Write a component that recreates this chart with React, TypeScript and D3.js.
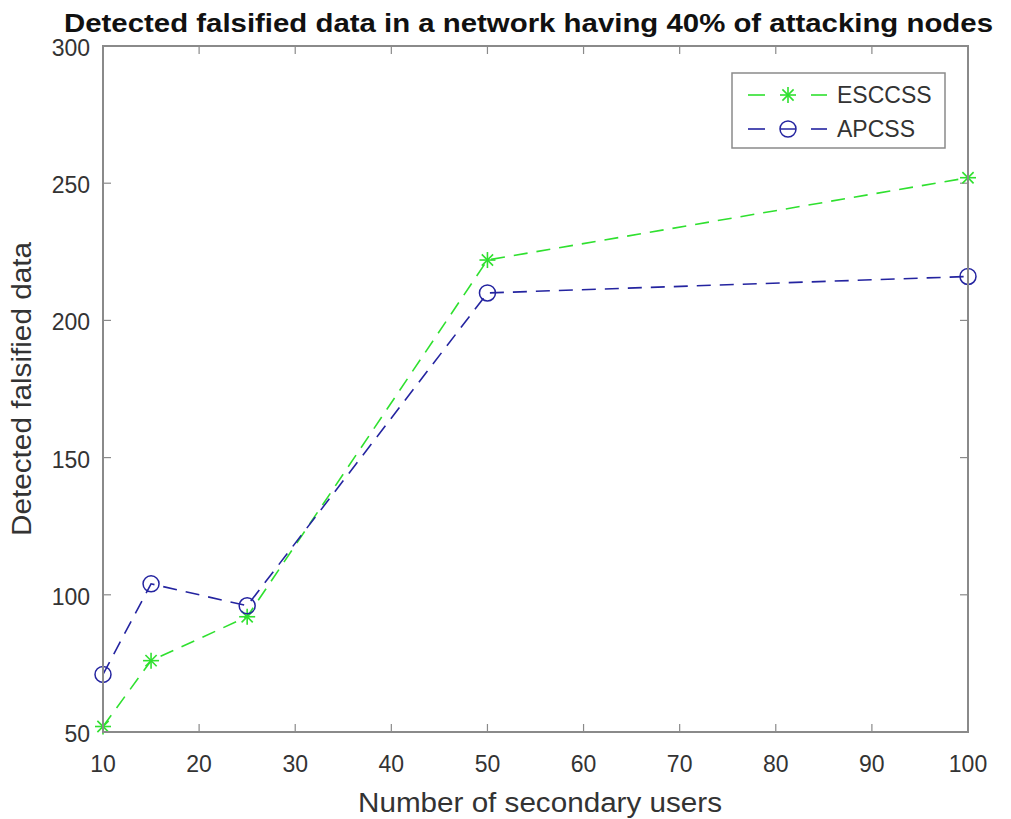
import React from "react";
import * as d3 from "d3";

const xValues = [10, 15, 25, 50, 100];
const escVals = [52, 76, 92, 222, 252];
const apcVals = [71, 104, 96, 210, 216];
const xTicks = [10, 20, 30, 40, 50, 60, 70, 80, 90, 100];
const yTicks = [50, 100, 150, 200, 250, 300];
const seriesNames = ["ESCCSS", "APCSS"];

const W = 1011, H = 819;
const L = 103, R = 968, T = 46, B = 732;

function Asterisk({ x, y, s, color }: { x: number; y: number; s: number; color: string }) {
  const d = s * 0.7;
  return (
    <g stroke={color} strokeWidth={1.6}>
      <line x1={x - s} y1={y} x2={x + s} y2={y} />
      <line x1={x} y1={y - s} x2={x} y2={y + s} />
      <line x1={x - d} y1={y - d} x2={x + d} y2={y + d} />
      <line x1={x - d} y1={y + d} x2={x + d} y2={y - d} />
    </g>
  );
}

export default function App() {
  const x = d3.scaleLinear().domain([10, 100]).range([L, R]);
  const y = d3.scaleLinear().domain([50, 300]).range([B, T]);
  const line = d3.line<number>().x((_, i) => x(xValues[i])).y((v) => y(v));
  const green = "#2fe02f";
  const blue = "#2424a0";
  const axisColor = "#8a8a8a";
  const textColor = "#333";
  const font = "Liberation Sans, Arial, sans-serif";
  const tl = 8;

  return (
    <svg width={W} height={H} style={{ position: "absolute", left: 0, top: 0, background: "#fff" }}>
      <rect x={0} y={0} width={W} height={H} fill="#fff" />
      {/* title */}
      <text x={528.5} y={32} textAnchor="middle" fontFamily={font} fontWeight="bold" fontSize={26}
        fill="#111" textLength={929} lengthAdjust="spacingAndGlyphs">
        Detected falsified data in a network having 40% of attacking nodes
      </text>
      {/* ticks */}
      <g stroke={axisColor} strokeWidth={1.2}>
        {xTicks.map((t) => (
          <g key={"xt" + t}>
            <line x1={x(t)} x2={x(t)} y1={B} y2={B - tl} />
            <line x1={x(t)} x2={x(t)} y1={T} y2={T + tl} />
          </g>
        ))}
        {yTicks.map((t) => (
          <g key={"yt" + t}>
            <line x1={L} x2={L + tl} y1={y(t)} y2={y(t)} />
            <line x1={R} x2={R - tl} y1={y(t)} y2={y(t)} />
          </g>
        ))}
      </g>
      {/* series lines */}
      <path d={line(escVals) || ""} fill="none" stroke={green} strokeWidth={1.6} strokeDasharray="14,9" />
      <path d={line(apcVals) || ""} fill="none" stroke={blue} strokeWidth={1.6} strokeDasharray="14,9" />
      {escVals.map((v, i) => (
        <Asterisk key={"e" + i} x={x(xValues[i])} y={y(v)} s={8} color={green} />
      ))}
      {apcVals.map((v, i) => (
        <circle key={"a" + i} cx={x(xValues[i])} cy={y(v)} r={8} fill="none" stroke={blue} strokeWidth={1.5} />
      ))}
      {/* axes box */}
      <rect x={L} y={T} width={R - L} height={B - T} fill="none" stroke={axisColor} strokeWidth={2} />
      {/* tick labels */}
      {xTicks.map((t) => (
        <text key={"xl" + t} x={x(t)} y={B + 40} textAnchor="middle" fontFamily={font} fontSize={23} fill={textColor}>
          {t}
        </text>
      ))}
      {yTicks.map((t) => (
        <text key={"yl" + t} x={L - 13} y={y(t) + 10} textAnchor="end" fontFamily={font} fontSize={23} fill={textColor}>
          {t}
        </text>
      ))}
      {/* axis labels */}
      <text x={540} y={812} textAnchor="middle" fontFamily={font} fontSize={27} fill={textColor}
        textLength={364} lengthAdjust="spacingAndGlyphs">
        Number of secondary users
      </text>
      <text transform={`translate(31,${389}) rotate(-90)`} textAnchor="middle" fontFamily={font} fontSize={27}
        fill={textColor} textLength={294} lengthAdjust="spacingAndGlyphs">
        Detected falsified data
      </text>
      {/* legend */}
      <rect x={732} y={73} width={213} height={75} fill="#fff" stroke={axisColor} strokeWidth={1.5} />
      {seriesNames.map((name, i) => {
        const ly = 95 + i * 34;
        const c = i === 0 ? green : blue;
        return (
          <g key={name}>
            <line x1={748} x2={765} y1={ly} y2={ly} stroke={c} strokeWidth={1.6} />
            <line x1={811} x2={827} y1={ly} y2={ly} stroke={c} strokeWidth={1.6} />
            {i === 0 ? (
              <Asterisk x={788} y={ly} s={8} color={c} />
            ) : (
              <circle cx={788} cy={ly} r={8} fill="#fff" stroke={c} strokeWidth={1.5} />
            )}
            {i === 1 && <line x1={780} x2={796} y1={ly} y2={ly} stroke={c} strokeWidth={1.5} />}
            <text x={837} y={ly + 8} fontFamily={font} fontSize={23} fill={textColor}>
              {name}
            </text>
          </g>
        );
      })}
    </svg>
  );
}
